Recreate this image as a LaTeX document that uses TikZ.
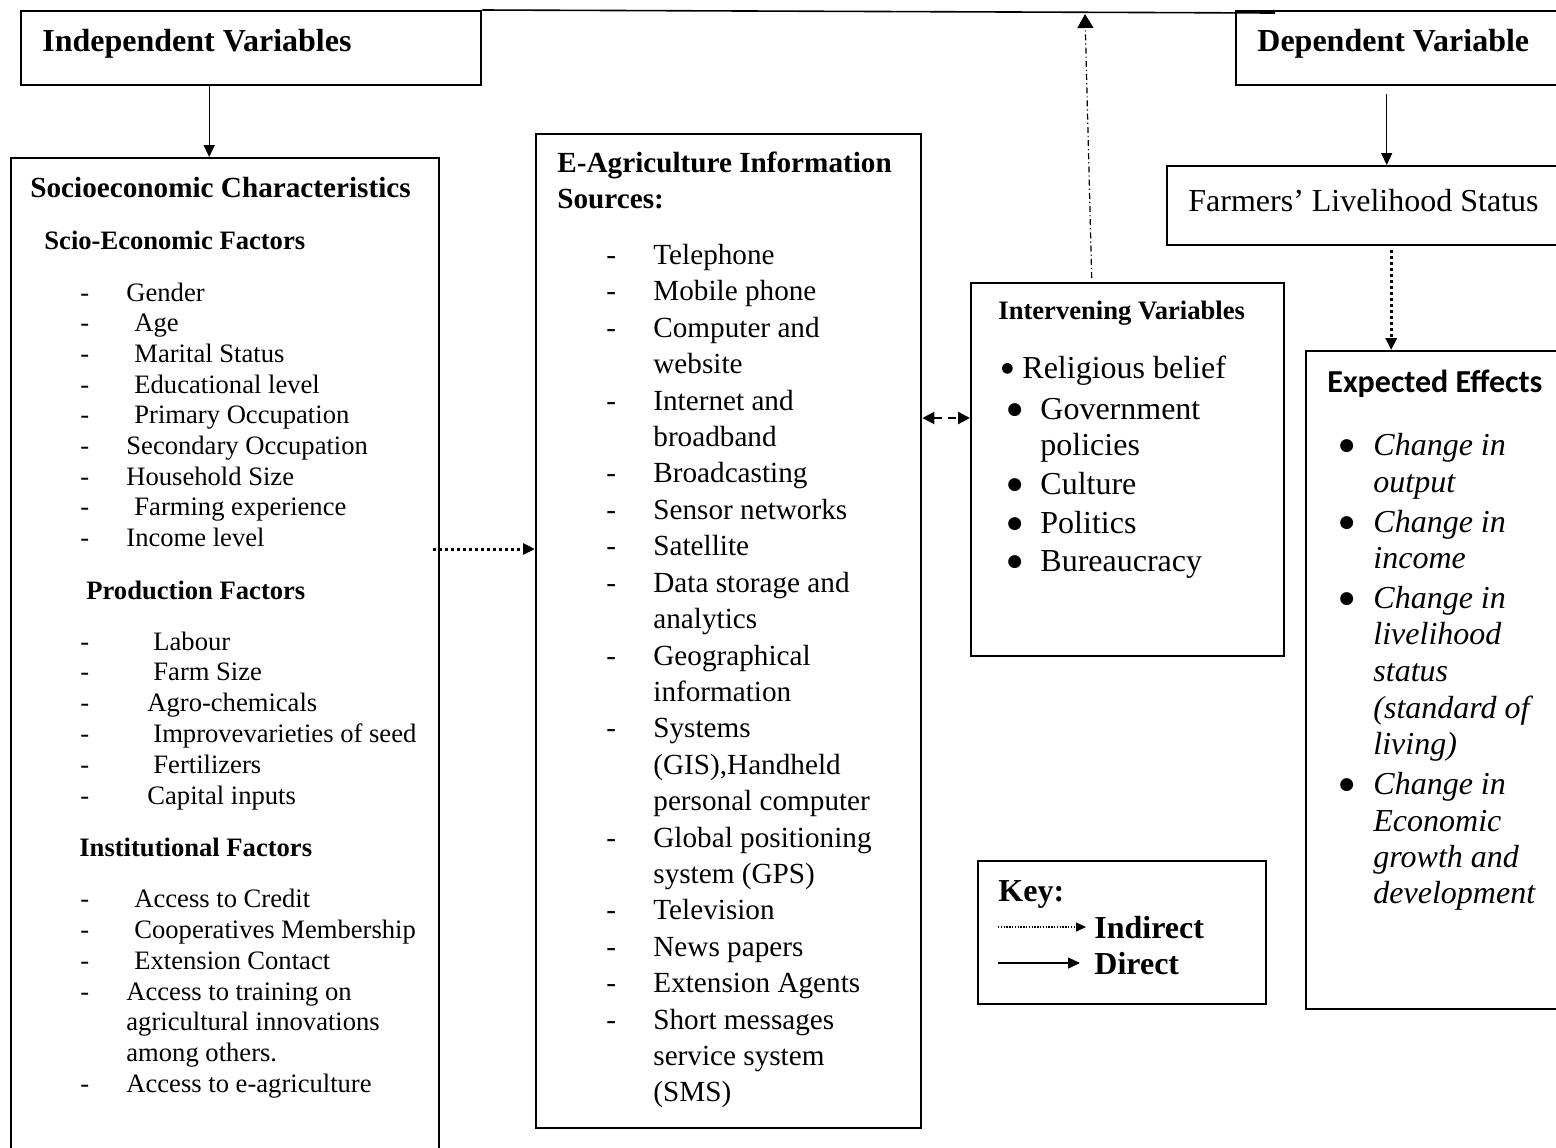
\documentclass[tikz,border=0pt]{standalone}
\usepackage{fontspec}
\setmainfont{Liberation Serif}
\newfontfamily\calib{Carlito}
\newfontfamily\dejavu{DejaVu Sans}
\usetikzlibrary{arrows.meta}
\tikzset{
  box/.style={draw,line width=1.2pt,anchor=north west,inner sep=0pt},
  lbl/.style={anchor=base west,inner sep=0pt},
  big/.style={lbl,font=\fontsize{16}{19}\selectfont},
  bigb/.style={lbl,font=\bfseries\fontsize{16}{19}\selectfont},
  dot/.style={lbl,font=\dejavu\fontsize{8.5}{10}\selectfont,yshift=2.4pt},
  titb/.style={lbl,font=\bfseries\fontsize{14.6}{17}\selectfont},
  mid/.style={lbl,font=\fontsize{14.6}{18}\selectfont},
  midb/.style={lbl,font=\bfseries\fontsize{14.6}{18}\selectfont},
  sml/.style={lbl,font=\fontsize{13.3}{16}\selectfont},
  smlb/.style={lbl,font=\bfseries\fontsize{13.3}{16}\selectfont},
  effect/.style={lbl,font=\itshape\fontsize{16}{19}\selectfont},
  direct/.style={-{Triangle[length=6pt,width=5.5pt]},line width=0.7pt},
  indirect/.style={-{Triangle[length=6pt,width=5.5pt]},line width=1.5pt,dash pattern=on 1.5pt off 1.5pt},
  keydot/.style={-{Triangle[length=5pt,width=4.5pt]},line width=0.7pt,dash pattern=on 0.7pt off 0.7pt},
  mutual/.style={{Triangle[length=6pt,width=6pt]}-{Triangle[length=6pt,width=6pt]},line width=1.2pt,dash pattern=on 4pt off 3pt},
  dashdot/.style={-{Triangle[length=7pt,width=8pt]},line width=0.6pt,dash pattern=on 3pt off 1.5pt on 0.6pt off 1.5pt}
}
\begin{document}
\begin{tikzpicture}[x=1pt,y=-1pt]
  \useasboundingbox (0,0) rectangle (778,573.5);
  \clip (0,0) rectangle (778,573.5);
  \draw
    (10,5) node[box,minimum width=230pt,minimum height=37pt] (indep){}
    (617.5,5) node[box,minimum width=172.5pt,minimum height=37pt] (dep){}
    (5,78.5) node[box,minimum width=214pt,minimum height=530pt] (socio){}
    (267.5,66.5) node[box,minimum width=192.5pt,minimum height=497pt] (eagri){}
    (485,141) node[box,minimum width=156.5pt,minimum height=186.5pt] (interv){}
    (583,82.5) node[box,minimum width=207pt,minimum height=39.5pt] (fls){}
    (652.5,175) node[box,minimum width=137.5pt,minimum height=329pt] (effects){}
    (488.5,430) node[box,minimum width=144pt,minimum height=71.5pt] (key){};
  \draw
    (21,25.5) node[bigb] (indept){Independent Variables}
    (628.5,25.5) node[bigb] (dept){Dependent Variable}
    (594,105.5) node[big] (flst){Farmers’ Livelihood Status}
    (15,98.5) node[titb] (sociot){Socioeconomic Characteristics}
    (22,124.5) node[smlb] (scio){Scio-Economic Factors}
    (43,299.5) node[smlb] (prod){Production Factors}
    (39.5,428) node[smlb] (inst){Institutional Factors}
    (278.5,86) node[midb] (eagrit){E-Agriculture Information}
    (278.5,104) node[midb] (eagris){Sources:}
    (499,159.5) node[smlb] (intervt){Intervening Variables}
    (663.5,196) node[lbl,font=\calib\bfseries\fontsize{16}{19}\selectfont] (effectst){Expected Effects}
    (499,450.5) node[bigb] (keyt){Key:}
    (547,469) node[bigb] (kind){Indirect}
    (547,487) node[bigb] (kdir){Direct};
  \draw
    (40,150.5) node[sml] (d1){-} (63,150.5) node[sml] (s1){Gender}
    (40,165.5) node[sml] (d2){-} (67,165.5) node[sml] (s2){Age}
    (40,181) node[sml] (d3){-} (67,181) node[sml] (s3){Marital Status}
    (40,196.5) node[sml] (d4){-} (67,196.5) node[sml] (s4){Educational level}
    (40,211.5) node[sml] (d5){-} (67,211.5) node[sml] (s5){Primary Occupation}
    (40,227) node[sml] (d6){-} (63,227) node[sml] (s6){Secondary Occupation}
    (40,242.5) node[sml] (d7){-} (63,242.5) node[sml] (s7){Household Size}
    (40,257.5) node[sml] (d8){-} (67,257.5) node[sml] (s8){Farming experience}
    (40,273) node[sml] (d9){-} (63,273) node[sml] (s9){Income level}
    (40,325) node[sml] (d10){-} (76.5,325) node[sml] (p1){Labour}
    (40,340) node[sml] (d11){-} (76.5,340) node[sml] (p2){Farm Size}
    (40,355.5) node[sml] (d12){-} (73.5,355.5) node[sml] (p3){Agro-chemicals}
    (40,371) node[sml] (d13){-} (76.5,371) node[sml] (p4){Improvevarieties of seed}
    (40,386.5) node[sml] (d14){-} (76.5,386.5) node[sml] (p5){Fertilizers}
    (40,402) node[sml] (d15){-} (73.5,402) node[sml] (p6){Capital inputs}
    (40,453.5) node[sml] (d16){-} (67,453.5) node[sml] (i1){Access to Credit}
    (40,469) node[sml] (d17){-} (67,469) node[sml] (i2){Cooperatives Membership}
    (40,484.5) node[sml] (d18){-} (67,484.5) node[sml] (i3){Extension Contact}
    (40,500) node[sml] (d19){-} (63,500) node[sml] (i4){Access to training on}
    (63,515) node[sml] (i4b){agricultural innovations}
    (63,530.5) node[sml] (i4c){among others.}
    (40,546) node[sml] (d20){-} (63,546) node[sml] (i5){Access to e-agriculture};
  \draw
    (303,132) node[mid] (e1){-} (326.5,132) node[mid] (t1){Telephone}
    (303,150) node[mid] (e2){-} (326.5,150) node[mid] (t2){Mobile phone}
    (303,168.5) node[mid] (e3){-} (326.5,168.5) node[mid] (t3){Computer and}
    (326.5,186.5) node[mid] (t3b){website}
    (303,205) node[mid] (e4){-} (326.5,205) node[mid] (t4){Internet and}
    (326.5,223) node[mid] (t4b){broadband}
    (303,241) node[mid] (e5){-} (326.5,241) node[mid] (t5){Broadcasting}
    (303,259.5) node[mid] (e6){-} (326.5,259.5) node[mid] (t6){Sensor networks}
    (303,277.5) node[mid] (e7){-} (326.5,277.5) node[mid] (t7){Satellite}
    (303,296) node[mid] (e8){-} (326.5,296) node[mid] (t8){Data storage and}
    (326.5,314) node[mid] (t8b){analytics}
    (303,332.5) node[mid] (e9){-} (326.5,332.5) node[mid] (t9){Geographical}
    (326.5,350.5) node[mid] (t9b){information}
    (303,368.5) node[mid] (e10){-} (326.5,368.5) node[mid] (t10){Systems}
    (326.5,387) node[mid] (t10b){(GIS),Handheld}
    (326.5,405) node[mid] (t10c){personal computer}
    (303,423.5) node[mid] (e11){-} (326.5,423.5) node[mid] (t11){Global positioning}
    (326.5,441.5) node[mid] (t11b){system (GPS)}
    (303,459.5) node[mid] (e12){-} (326.5,459.5) node[mid] (t12){Television}
    (303,478) node[mid] (e13){-} (326.5,478) node[mid] (t13){News papers}
    (303,496) node[mid] (e14){-} (326.5,496) node[mid] (t14){Extension Agents}
    (303,514.5) node[mid] (e15){-} (326.5,514.5) node[mid] (t15){Short messages}
    (326.5,532.5) node[mid] (t15b){service system}
    (326.5,550.5) node[mid] (t15c){(SMS)};
  \draw
    (500.5,189) node[dot,font=\dejavu\fontsize{7}{9}\selectfont,yshift=0.6pt] (b1){●} (511,189) node[big] (v1){Religious belief}
    (503.5,209.5) node[dot] (b2){●} (520,209.5) node[big] (v2){Government}
    (520,227.5) node[big] (v2b){policies}
    (503.5,247) node[dot] (b3){●} (520,247) node[big] (v3){Culture}
    (503.5,266.5) node[dot] (b4){●} (520,266.5) node[big] (v4){Politics}
    (503.5,285.5) node[dot] (b5){●} (520,285.5) node[big] (v5){Bureaucracy};
  \draw
    (669.5,227.5) node[dot] (c1){●} (686.5,227.5) node[effect] (f1){Change in}
    (686.5,246) node[effect] (f1b){output}
    (669.5,266) node[dot] (c2){●} (686.5,266) node[effect] (f2){Change in}
    (686.5,284) node[effect] (f2b){income}
    (669.5,304) node[dot] (c3){●} (686.5,304) node[effect] (f3){Change in}
    (686.5,322) node[effect] (f3b){livelihood}
    (686.5,340.5) node[effect] (f3c){status}
    (686.5,359) node[effect] (f3d){(standard of}
    (686.5,377) node[effect] (f3e){living)}
    (669.5,397) node[dot] (c4){●} (686.5,397) node[effect] (f4){Change in}
    (686.5,415.5) node[effect] (f4b){Economic}
    (686.5,433.5) node[effect] (f4c){growth and}
    (686.5,451.5) node[effect] (f4d){development};
  \coordinate (lineend) at (637.5,6.5);
  \coordinate (topmark) at (542.5,7);
  \coordinate (ind1) at (216.5,274.5);
  \coordinate (dbl) at (470,209);
  \coordinate (k1) at (499,463.5);
  \coordinate (k2) at (499,481.5);
  \begin{scope}[line width=0.8pt]
    \draw (indep.north east) to (lineend);
    \draw[direct] ([xshift=-21pt]indep.south) to ([xshift=-21pt]indep.south |- socio.north);
    \draw[direct,shorten <=4pt] ([xshift=-11pt]dep.south) to ([xshift=-11pt]dep.south |- fls.north);
    \draw[indirect] (ind1) to (ind1 -| eagri.west);
    \draw[indirect] ([xshift=8.5pt,yshift=-2pt]fls.south) to ([xshift=8.5pt]fls.south |- effects.north);
    \draw[mutual] (dbl -| eagri.east) to (dbl -| interv.west);
    \draw[dashdot] ([xshift=-18pt,yshift=2pt]interv.north) to (topmark);
    \draw[keydot] (k1) to ([xshift=-4pt]k1 -| kind.west);
    \draw[direct] (k2) to ([xshift=-7pt]k2 -| kdir.west);
  \end{scope}
\end{tikzpicture}
\end{document}
